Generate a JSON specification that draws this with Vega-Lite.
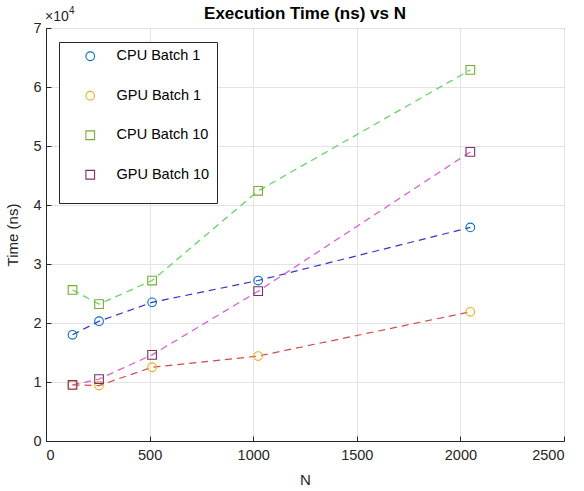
{
  "$schema": "https://vega.github.io/schema/vega-lite/v6.json",
  "width": 518,
  "height": 413,
  "autosize": {"type": "none"},
  "padding": {"left": 46, "top": 28, "right": 20, "bottom": 50},
  "background": "white",
  "title": {"text": "Execution Time (ns) vs N", "fontSize": 17, "fontWeight": "bold", "font": "Liberation Sans", "color": "#000000", "anchor": "middle", "offset": -17},
  "config": {
    "view": {"stroke": "#262626", "strokeWidth": 1},
    "font": "Liberation Sans",
    "axis": {"labelFont": "Liberation Sans", "labelFontSize": 14.5, "labelColor": "#262626", "titleFont": "Liberation Sans", "titleFontSize": 15, "titleFontWeight": "normal", "titleColor": "#262626", "domainColor": "#262626", "tickColor": "#262626", "gridColor": "#e3e3e3", "tickSize": -5}
  },
  "data": {"values": [
    {"N": 128, "time": 18000, "series": "CPU Batch 1"},
    {"N": 256, "time": 20300, "series": "CPU Batch 1"},
    {"N": 512, "time": 23500, "series": "CPU Batch 1"},
    {"N": 1024, "time": 27200, "series": "CPU Batch 1"},
    {"N": 2048, "time": 36200, "series": "CPU Batch 1"},
    {"N": 128, "time": 9500, "series": "GPU Batch 1"},
    {"N": 256, "time": 9400, "series": "GPU Batch 1"},
    {"N": 512, "time": 12500, "series": "GPU Batch 1"},
    {"N": 1024, "time": 14400, "series": "GPU Batch 1"},
    {"N": 2048, "time": 21900, "series": "GPU Batch 1"},
    {"N": 128, "time": 25600, "series": "CPU Batch 10"},
    {"N": 256, "time": 23200, "series": "CPU Batch 10"},
    {"N": 512, "time": 27200, "series": "CPU Batch 10"},
    {"N": 1024, "time": 42400, "series": "CPU Batch 10"},
    {"N": 2048, "time": 62900, "series": "CPU Batch 10"},
    {"N": 128, "time": 9500, "series": "GPU Batch 10"},
    {"N": 256, "time": 10500, "series": "GPU Batch 10"},
    {"N": 512, "time": 14600, "series": "GPU Batch 10"},
    {"N": 1024, "time": 25400, "series": "GPU Batch 10"},
    {"N": 2048, "time": 49000, "series": "GPU Batch 10"}
  ]},
  "encoding": {
    "x": {"field": "N", "type": "quantitative", "title": "N", "scale": {"domain": [0, 2500], "nice": false}, "axis": {"values": [0, 500, 1000, 1500, 2000, 2500], "format": "d", "labelPadding": 12, "titlePadding": 11}},
    "y": {"field": "time", "type": "quantitative", "title": "Time (ns)", "scale": {"domain": [0, 70000], "nice": false}, "axis": {"values": [0, 10000, 20000, 30000, 40000, 50000, 60000, 70000], "labelExpr": "datum.value / 10000", "labelPadding": 10, "titlePadding": 12}}
  },
  "layer": [
    {
      "transform": [{"filter": "datum.series == 'CPU Batch 1'"}],
      "mark": {"type": "line", "strokeDash": [7, 5], "strokeWidth": 1.2, "color": "#3535c4"},
      "encoding": {}
    },
    {
      "transform": [{"filter": "datum.series == 'GPU Batch 1'"}],
      "mark": {"type": "line", "strokeDash": [7, 5], "strokeWidth": 1.2, "color": "#d24a4a"},
      "encoding": {}
    },
    {
      "transform": [{"filter": "datum.series == 'CPU Batch 10'"}],
      "mark": {"type": "line", "strokeDash": [7, 5], "strokeWidth": 1.2, "color": "#5cd65c"},
      "encoding": {}
    },
    {
      "transform": [{"filter": "datum.series == 'GPU Batch 10'"}],
      "mark": {"type": "line", "strokeDash": [7, 5], "strokeWidth": 1.2, "color": "#dc55dc"},
      "encoding": {}
    },
    {
      "mark": {"type": "point", "filled": false, "strokeWidth": 1.1, "opacity": 1},
      "encoding": {
        "color": {"field": "series", "type": "nominal", "scale": {"domain": ["CPU Batch 1", "GPU Batch 1", "CPU Batch 10", "GPU Batch 10"], "range": ["#0072BD", "#EDB120", "#77AC30", "#7E2F5E"]},
          "legend": {"title": " ", "titleOrient": "bottom", "titleFontSize": 12, "titlePadding": 4, "orient": "none", "legendX": 13, "legendY": 14, "direction": "vertical", "padding": 7, "strokeColor": "#262626", "fillColor": "white", "rowPadding": 24.5, "symbolOffset": 17, "labelOffset": 19, "labelFontSize": 14.5, "labelFont": "Liberation Sans", "labelColor": "#000000", "symbolSize": 60, "symbolStrokeWidth": 1.1, "labelLimit": 200}},
        "shape": {"field": "series", "type": "nominal", "scale": {"domain": ["CPU Batch 1", "GPU Batch 1", "CPU Batch 10", "GPU Batch 10"], "range": ["circle", "circle", "square", "square"]}},
        "size": {"field": "series", "type": "nominal", "scale": {"domain": ["CPU Batch 1", "GPU Batch 1", "CPU Batch 10", "GPU Batch 10"], "range": [75, 75, 45, 45]}, "legend": null}
      }
    },
    {
      "data": {"values": [{"label": "×10", "x": 0, "y": 70000}]},
      "mark": {"type": "text", "align": "left", "baseline": "alphabetic", "dy": -7, "dx": -1, "fontSize": 14, "color": "#262626", "font": "Liberation Sans"},
      "encoding": {
        "x": {"field": "x", "type": "quantitative"},
        "y": {"field": "y", "type": "quantitative"},
        "text": {"field": "label"}
      }
    },
    {
      "data": {"values": [{"label": "4", "x": 0, "y": 70000}]},
      "mark": {"type": "text", "align": "left", "baseline": "alphabetic", "dy": -14, "dx": 23, "fontSize": 10, "color": "#262626", "font": "Liberation Sans"},
      "encoding": {
        "x": {"field": "x", "type": "quantitative"},
        "y": {"field": "y", "type": "quantitative"},
        "text": {"field": "label"}
      }
    }
  ]
}
